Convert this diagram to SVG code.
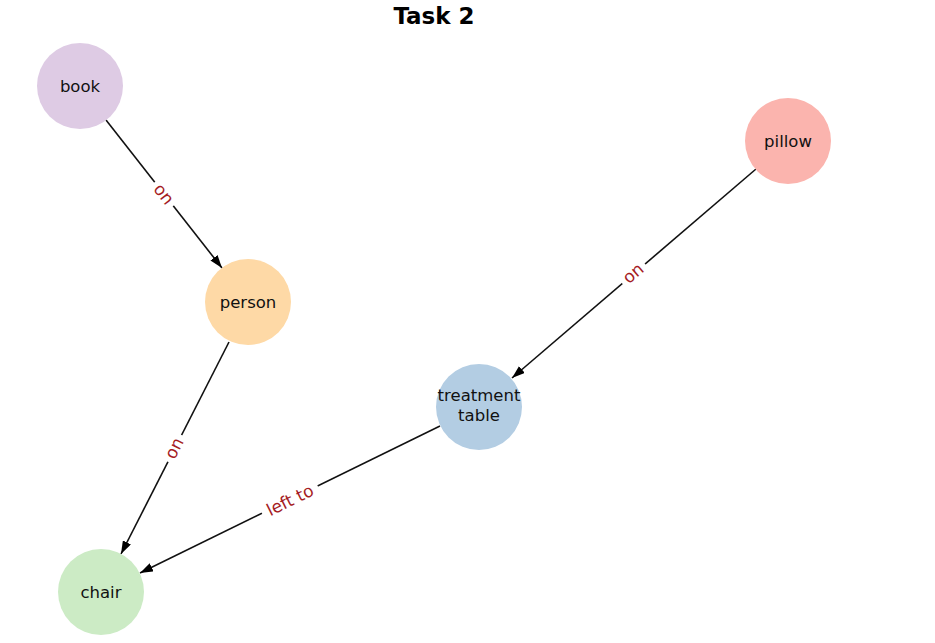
<svg xmlns="http://www.w3.org/2000/svg" width="935" height="643" viewBox="0 0 935 643">
  <style>
    .node-label { font-family: "DejaVu Sans", sans-serif; font-size: 16.5px; fill: #111; text-anchor: middle; }
    .edge { stroke: #111; stroke-width: 1.6; fill: none; }
    .edge-label { font-family: "DejaVu Sans", sans-serif; font-size: 17px; fill: #a51c24; text-anchor: middle; dominant-baseline: central; }
    .label-bg { fill: #ffffff; }
    .title { font-family: "DejaVu Sans", sans-serif; font-size: 23px; font-weight: bold; fill: #000; text-anchor: middle; }
  </style>
  <defs>
    <marker id="arrow" viewBox="0 0 13 9" refX="13" refY="4.5" markerWidth="13" markerHeight="9" markerUnits="userSpaceOnUse" orient="auto">
      <path d="M0,0 L13,4.5 L0,9 Z" fill="#000"/>
    </marker>
  </defs>
  <rect width="935" height="643" fill="#ffffff"/>
  <text class="title" x="434" y="24">Task 2</text>

  <g id="connectors">
    <line class="edge" x1="106" y1="120" x2="222" y2="268" marker-end="url(#arrow)"/>
    <line class="edge" x1="229" y1="342" x2="121" y2="554" marker-end="url(#arrow)"/>
    <line class="edge" x1="756" y1="169" x2="512" y2="378" marker-end="url(#arrow)"/>
    <line class="edge" x1="440" y1="426" x2="140" y2="573" marker-end="url(#arrow)"/>

    <g transform="translate(164,194) rotate(52)">
      <rect class="label-bg" x="-15" y="-10" width="30" height="20"/>
      <text class="edge-label" x="0" y="0">on</text>
    </g>
    <g transform="translate(174,448) rotate(-63)">
      <rect class="label-bg" x="-15" y="-10" width="30" height="20"/>
      <text class="edge-label" x="0" y="0">on</text>
    </g>
    <g transform="translate(633,273) rotate(-40.5)">
      <rect class="label-bg" x="-15" y="-10" width="30" height="20"/>
      <text class="edge-label" x="0" y="0">on</text>
    </g>
    <g transform="translate(290,500) rotate(-26.2)">
      <rect class="label-bg" x="-31" y="-10" width="62" height="20"/>
      <text class="edge-label" x="0" y="0">left to</text>
    </g>
  </g>

  <g id="node-book">
    <circle cx="80" cy="86" r="43" fill="#decbe4"/>
    <text class="node-label" x="80" y="92">book</text>
  </g>
  <g id="node-person">
    <circle cx="248" cy="302" r="43" fill="#fed9a6"/>
    <text class="node-label" x="248" y="308">person</text>
  </g>
  <g id="node-pillow">
    <circle cx="788" cy="141" r="43" fill="#fbb4ae"/>
    <text class="node-label" x="788" y="147">pillow</text>
  </g>
  <g id="node-treatment-table">
    <circle cx="479" cy="407" r="43" fill="#b3cde3"/>
    <text class="node-label" x="479" y="401">treatment</text>
    <text class="node-label" x="479" y="421">table</text>
  </g>
  <g id="node-chair">
    <circle cx="101" cy="592" r="43" fill="#ccebc5"/>
    <text class="node-label" x="101" y="598">chair</text>
  </g>
</svg>
